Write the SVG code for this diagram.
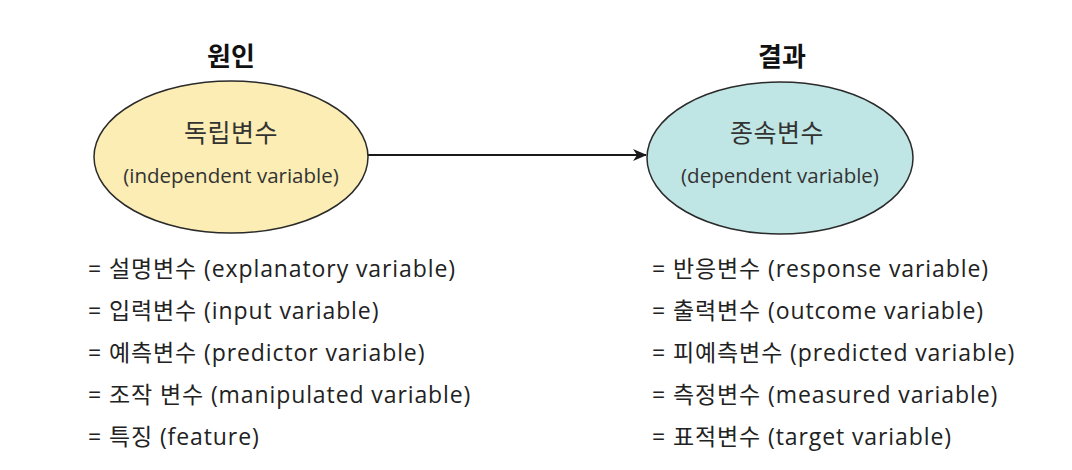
<svg xmlns="http://www.w3.org/2000/svg" width="1072" height="470" viewBox="0 0 1072 470">
<style>
text{font-family:"Open Sans","Noto Sans CJK KR",sans-serif;fill:#222}
.title{font-size:26px;font-weight:bold;text-anchor:middle;fill:#111;font-family:"Noto Sans CJK KR",sans-serif}
.kr{font-size:25px;text-anchor:middle;fill:#333;letter-spacing:0.5px}
.en{font-size:20.5px;text-anchor:middle;fill:#333}
.item{font-size:23px;letter-spacing:0.9px}
.node{stroke:#2a2a2a;stroke-width:1.5}
.conn{stroke:#1a1a1a;stroke-width:2;fill:none}
</style>
<defs>
<marker id="arr" markerWidth="14" markerHeight="12" refX="13" refY="6" orient="auto" markerUnits="userSpaceOnUse">
<path d="M0,0 L14,6 L0,12 L4,6 Z" fill="#1a1a1a"/>
</marker>
</defs>
<rect width="1072" height="470" fill="#ffffff"/>
<g id="connectors">
<line class="conn" x1="368" y1="155" x2="646" y2="155" marker-end="url(#arr)"/>
</g>
<g id="cause">
<text class="title" x="231" y="66">원인</text>
<ellipse class="node" cx="231" cy="157" rx="137" ry="76" fill="#fbedb4"/>
<text class="kr" x="231" y="142">독립변수</text>
<text class="en" x="231" y="183">(independent variable)</text>
</g>
<g id="effect">
<text class="title" x="782" y="66">결과</text>
<ellipse class="node" cx="780" cy="158" rx="133" ry="76" fill="#bfe6e5"/>
<text class="kr" x="777" y="142">종속변수</text>
<text class="en" x="780" y="183">(dependent variable)</text>
</g>
<g id="cause-list">
<text class="item" x="88" y="277">= 설명변수 (explanatory variable)</text>
<text class="item" x="88" y="319">= 입력변수 (input variable)</text>
<text class="item" x="88" y="361">= 예측변수 (predictor variable)</text>
<text class="item" x="88" y="403">= 조작 변수 (manipulated variable)</text>
<text class="item" x="88" y="445">= 특징 (feature)</text>
</g>
<g id="effect-list">
<text class="item" x="652" y="277">= 반응변수 (response variable)</text>
<text class="item" x="652" y="319">= 출력변수 (outcome variable)</text>
<text class="item" x="652" y="361">= 피예측변수 (predicted variable)</text>
<text class="item" x="652" y="403">= 측정변수 (measured variable)</text>
<text class="item" x="652" y="445">= 표적변수 (target variable)</text>
</g>
</svg>
